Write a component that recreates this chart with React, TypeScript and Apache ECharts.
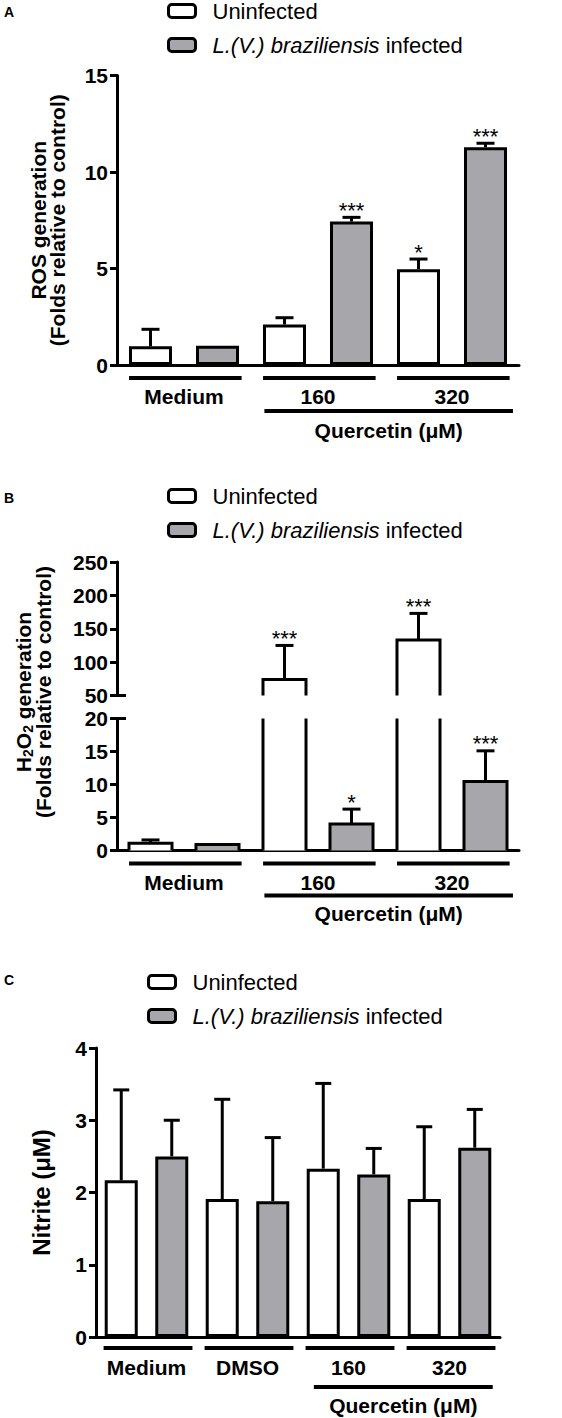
import React, { useEffect, useRef } from 'react';
import * as echarts from 'echarts';

const FONT = 'Liberation Sans, Arial, Helvetica, sans-serif';
const INK = '#000000';
const GRAY = '#a7a7ab';
const WHITE = '#ffffff';

const SPECIES = 'L.(V.) braziliensis';
const SERIES_NAMES = ['Uninfected', `${SPECIES} infected`];
const TREATMENT_LABEL = 'Quercetin (\u03bcM)';

// Panel A - ROS generation
const rosGroups = ['Medium', '160', '320'];
const rosUninfected = [0.97, 2.1, 4.96];
const rosUninfectedErr = [0.88, 0.35, 0.53];
const rosInfected = [1.0, 7.43, 11.28];
const rosInfectedErr = [0, 0.22, 0.21];
const rosUninfectedSig = ['', '', '*'];
const rosInfectedSig = ['', '***', '***'];
const rosAxis = { min: 0, max: 15, interval: 5 };

// Panel B - H2O2 generation (broken axis)
const h2o2Groups = ['Medium', '160', '320'];
const h2o2Uninfected = [1.1, 74, 133];
const h2o2UninfectedErr = [0.5, 51, 40];
const h2o2Infected = [0.9, 4.0, 10.45];
const h2o2InfectedErr = [0, 2.27, 4.65];
const h2o2UninfectedSig = ['', '***', '***'];
const h2o2InfectedSig = ['', '*', '***'];
const h2o2UpperAxis = { min: 50, max: 250, interval: 50 };
const h2o2LowerAxis = { min: 0, max: 20, interval: 5 };

// Panel C - Nitrite
const nitriteGroups = ['Medium', 'DMSO', '160', '320'];
const nitriteUninfected = [2.17, 1.91, 2.33, 1.91];
const nitriteUninfectedErr = [1.25, 1.38, 1.18, 1.0];
const nitriteInfected = [2.5, 1.88, 2.25, 2.62];
const nitriteInfectedErr = [0.5, 0.88, 0.36, 0.53];
const nitriteAxis = { min: 0, max: 4, interval: 1 };

const errRender = (sig: string[], side: number, cap: number) => (params: any, api: any) => {
  const cat = api.value(0);
  const mean = api.value(1);
  const err = api.value(2);
  const cs = params.coordSys;
  const band = api.size([1, 0])[0];
  const p0 = api.coord([cat, mean]);
  if (p0[1] < cs.y - 0.5 || p0[1] > cs.y + cs.height + 0.5) return null;
  const x = p0[0] + (side * band) / 4;
  const p1 = api.coord([cat, mean + err]);
  const children: any[] = [];
  if (err > 0) {
    children.push({ type: 'line', shape: { x1: x, y1: p0[1], x2: x, y2: p1[1] }, style: { stroke: INK, lineWidth: 3 } });
    children.push({ type: 'line', shape: { x1: x - cap, y1: p1[1], x2: x + cap, y2: p1[1] }, style: { stroke: INK, lineWidth: 3 } });
  }
  const s = sig[params.dataIndex];
  if (s) {
    children.push({
      type: 'text',
      x,
      y: p1[1] - 7,
      style: { text: s, fill: INK, fontFamily: FONT, fontSize: 22, align: 'center', verticalAlign: 'middle' },
    });
  }
  return { type: 'group', children };
};

const brokenBarRender = (side: number, fill: string) => (params: any, api: any) => {
  const cat = api.value(0);
  const v = api.value(1);
  const cs = params.coordSys;
  const band = api.size([1, 0])[0];
  const w = band * 0.321;
  const pTop = api.coord([cat, v]);
  const pBase = api.coord([cat, 0]);
  const gTop = cs.y;
  const gBot = cs.y + cs.height;
  if (pTop[1] > gBot) return null;
  const cx = pTop[0] + (side * band) / 4;
  const l = cx - w / 2;
  const r = cx + w / 2;
  const topClip = pTop[1] < gTop;
  const yT = Math.max(pTop[1], gTop);
  const yB = Math.min(pBase[1], gBot);
  const children: any[] = [{ type: 'rect', shape: { x: l, y: yT, width: w, height: yB - yT }, style: { fill } }];
  if (topClip) {
    children.push({ type: 'line', shape: { x1: l, y1: yB, x2: l, y2: yT }, style: { stroke: INK, lineWidth: 3 } });
    children.push({ type: 'line', shape: { x1: r, y1: yB, x2: r, y2: yT }, style: { stroke: INK, lineWidth: 3 } });
  } else {
    children.push({
      type: 'polyline',
      shape: { points: [[l, yB], [l, yT], [r, yT], [r, yB]] },
      style: { stroke: INK, lineWidth: 3, fill: 'none', lineJoin: 'miter' },
    });
  }
  return { type: 'group', children };
};

const breakRender = (params: any, api: any) => {
  const cs = params.coordSys;
  const y = api.coord([0, api.value(1)])[1];
  return { type: 'line', shape: { x1: cs.x, y1: y, x2: cs.x + 9, y2: y }, style: { stroke: INK, lineWidth: 3 } };
};

const underlineRender = (gap: number, fracL: number, fracR: number) => (params: any, api: any) => {
  const p = api.coord([api.value(0), 0]);
  const band = api.size([1, 0])[0];
  return {
    type: 'line',
    shape: { x1: p[0] - band * fracL, y1: p[1] + gap, x2: p[0] + band * fracR, y2: p[1] + gap },
    style: { stroke: INK, lineWidth: 4 },
  };
};

const treatmentRender = (lineGap: number, textGap: number, fracL: number, fracR: number) => (params: any, api: any) => {
  const a = api.coord([api.value(0), 0]);
  const b = api.coord([api.value(1), 0]);
  const band = api.size([1, 0])[0];
  const x1 = a[0] - band * fracL;
  const x2 = b[0] + band * fracR;
  const y = a[1] + lineGap;
  return {
    type: 'group',
    children: [
      { type: 'line', shape: { x1, y1: y, x2, y2: y }, style: { stroke: INK, lineWidth: 4 } },
      {
        type: 'text',
        x: (x1 + x2) / 2,
        y: a[1] + textGap,
        style: { text: TREATMENT_LABEL, fill: INK, fontFamily: FONT, fontWeight: 'bold', fontSize: 21, align: 'center', verticalAlign: 'middle' },
      },
    ],
  };
};

const legendFor = (left: number, top: number) => ({
  orient: 'vertical',
  left,
  top,
  padding: 0,
  itemWidth: 27,
  itemHeight: 13,
  itemGap: 12,
  selectedMode: false,
  data: [
    { name: SERIES_NAMES[0], icon: 'roundRect', itemStyle: { color: WHITE, borderColor: INK, borderWidth: 3 } },
    { name: SERIES_NAMES[1], icon: 'roundRect', itemStyle: { color: GRAY, borderColor: INK, borderWidth: 3 } },
  ],
  formatter: (name: string) =>
    name === SERIES_NAMES[1] ? `{gap|}{it|${SPECIES}}{n| infected}` : `{gap|}{n|${name}}`,
  textStyle: {
    fontFamily: FONT,
    fontSize: 22,
    color: INK,
    lineHeight: 22,
    rich: {
      gap: { width: 12, lineHeight: 22 },
      n: { fontFamily: FONT, fontSize: 22, color: INK, lineHeight: 22 },
      it: { fontFamily: FONT, fontSize: 22, fontStyle: 'italic', color: INK, lineHeight: 22 },
    },
  },
});

const yAxisBase = (gridIndex: number, range: any) => ({
  gridIndex,
  type: 'value',
  min: range.min,
  max: range.max,
  interval: range.interval,
  axisLine: { show: true, lineStyle: { color: INK, width: 3 } },
  axisTick: { show: true, length: 7, lineStyle: { color: INK, width: 3 } },
  axisLabel: { fontFamily: FONT, fontWeight: 'bold', fontSize: 21, color: INK, margin: 9 },
  splitLine: { show: false },
});

const xAxisBase = (gridIndex: number, data: string[], margin: number, show = true) => ({
  gridIndex,
  type: 'category',
  data,
  show,
  axisLine: { show: true, onZero: false, lineStyle: { color: INK, width: 3 } },
  axisTick: { show: false },
  axisLabel: { interval: 0, hideOverlap: false, fontFamily: FONT, fontWeight: 'bold', fontSize: 21, color: INK, margin },
});

const triples = (means: number[], errs: number[]) => means.map((m, i) => [i, m, errs[i]]);
const idx = (groups: string[]) => groups.map((_, i) => [i, 0]);

export default function App() {
  const ref = useRef<HTMLDivElement>(null);
  useEffect(() => {
    if (!ref.current) return;
    const chart = echarts.init(ref.current, null, { renderer: 'svg' });
    const option: any = {
      animation: false,
      backgroundColor: '#ffffff',
      textStyle: { fontFamily: FONT },
      grid: [
        { left: 117, top: 75.5, width: 402, height: 289.5 },
        { left: 117, top: 562, width: 402, height: 133.5 },
        { left: 117, top: 718.5, width: 402, height: 132 },
        { left: 96, top: 1048, width: 404, height: 289 },
      ],
      legend: [legendFor(167, 0), legendFor(167, 485), legendFor(147, 971)],
      xAxis: [
        xAxisBase(0, rosGroups, 21),
        xAxisBase(1, h2o2Groups, 21, false),
        xAxisBase(2, h2o2Groups, 21),
        xAxisBase(3, nitriteGroups, 20),
      ],
      yAxis: [
        {
          ...yAxisBase(0, rosAxis),
          name: 'ROS generation\n(Folds relative to control)',
          nameLocation: 'middle',
          nameRotate: 90,
          nameGap: 50,
          nameTextStyle: { fontFamily: FONT, fontSize: 21, fontWeight: 'bold', lineHeight: 19, color: INK },
        },
        yAxisBase(1, h2o2UpperAxis),
        yAxisBase(2, h2o2LowerAxis),
        {
          ...yAxisBase(3, nitriteAxis),
          name: 'Nitrite (\u03bcM)',
          nameLocation: 'middle',
          nameRotate: 90,
          nameGap: 43,
          nameTextStyle: { fontFamily: FONT, fontSize: 24, fontWeight: 'bold', color: INK },
        },
      ],
      graphic: [
        { type: 'text', left: 4, top: 5, style: { text: 'A', fontFamily: FONT, fontWeight: 'bold', fontSize: 14, fill: INK } },
        { type: 'text', left: 4, top: 491, style: { text: 'B', fontFamily: FONT, fontWeight: 'bold', fontSize: 14, fill: INK } },
        { type: 'text', left: 4, top: 973, style: { text: 'C', fontFamily: FONT, fontWeight: 'bold', fontSize: 14, fill: INK } },
        {
          type: 'text',
          x: 33,
          y: 692,
          rotation: Math.PI / 2,
          style: {
            text: '{n|H}{s|2}{n|O}{s|2}{n| generation}\n{n|(Folds relative to control)}',
            fill: INK,
            align: 'center',
            verticalAlign: 'middle',
            rich: {
              n: { fontFamily: FONT, fontSize: 21, fontWeight: 'bold', lineHeight: 20, fill: INK },
              s: { fontFamily: FONT, fontSize: 14, fontWeight: 'bold', lineHeight: 14, padding: [10, 0, 0, 0], fill: INK },
            },
          },
        },
      ],
      series: [
        // Panel A
        { type: 'bar', name: SERIES_NAMES[0], xAxisIndex: 0, yAxisIndex: 0, data: rosUninfected, barWidth: '32.1%', barGap: '55.8%', itemStyle: { color: WHITE, borderColor: INK, borderWidth: 3 } },
        { type: 'bar', name: SERIES_NAMES[1], xAxisIndex: 0, yAxisIndex: 0, data: rosInfected, barWidth: '32.1%', barGap: '55.8%', itemStyle: { color: GRAY, borderColor: INK, borderWidth: 3 } },
        { type: 'custom', xAxisIndex: 0, yAxisIndex: 0, z: 5, data: triples(rosUninfected, rosUninfectedErr), renderItem: errRender(rosUninfectedSig, -1, 9) },
        { type: 'custom', xAxisIndex: 0, yAxisIndex: 0, z: 5, data: triples(rosInfected, rosInfectedErr), renderItem: errRender(rosInfectedSig, 1, 9) },
        { type: 'custom', xAxisIndex: 0, yAxisIndex: 0, data: idx(rosGroups), renderItem: underlineRender(13, 0.41, 0.43) },
        { type: 'custom', xAxisIndex: 0, yAxisIndex: 0, data: [[1, 2]], renderItem: treatmentRender(46, 65, 0.4, 0.455) },
        // Panel B (upper and lower segments)
        ...[1, 2].flatMap((g) => [
          { type: 'custom', name: SERIES_NAMES[0], xAxisIndex: g, yAxisIndex: g, data: triples(h2o2Uninfected, h2o2UninfectedErr), renderItem: brokenBarRender(-1, WHITE), itemStyle: { color: WHITE, borderColor: INK } },
          { type: 'custom', name: SERIES_NAMES[1], xAxisIndex: g, yAxisIndex: g, data: triples(h2o2Infected, h2o2InfectedErr), renderItem: brokenBarRender(1, GRAY), itemStyle: { color: GRAY, borderColor: INK } },
          { type: 'custom', xAxisIndex: g, yAxisIndex: g, z: 5, data: triples(h2o2Uninfected, h2o2UninfectedErr), renderItem: errRender(h2o2UninfectedSig, -1, 9) },
          { type: 'custom', xAxisIndex: g, yAxisIndex: g, z: 5, data: triples(h2o2Infected, h2o2InfectedErr), renderItem: errRender(h2o2InfectedSig, 1, 9) },
        ]),
        { type: 'custom', xAxisIndex: 1, yAxisIndex: 1, data: [[0, h2o2UpperAxis.min]], renderItem: breakRender },
        { type: 'custom', xAxisIndex: 2, yAxisIndex: 2, data: [[0, h2o2LowerAxis.max]], renderItem: breakRender },
        { type: 'custom', xAxisIndex: 2, yAxisIndex: 2, data: idx(h2o2Groups), renderItem: underlineRender(13, 0.41, 0.43) },
        { type: 'custom', xAxisIndex: 2, yAxisIndex: 2, data: [[1, 2]], renderItem: treatmentRender(45, 63, 0.4, 0.455) },
        // Panel C
        { type: 'bar', name: SERIES_NAMES[0], xAxisIndex: 3, yAxisIndex: 3, data: nitriteUninfected, barWidth: '32.7%', barGap: '53%', itemStyle: { color: WHITE, borderColor: INK, borderWidth: 3 } },
        { type: 'bar', name: SERIES_NAMES[1], xAxisIndex: 3, yAxisIndex: 3, data: nitriteInfected, barWidth: '32.7%', barGap: '53%', itemStyle: { color: GRAY, borderColor: INK, borderWidth: 3 } },
        { type: 'custom', xAxisIndex: 3, yAxisIndex: 3, z: 5, data: triples(nitriteUninfected, nitriteUninfectedErr), renderItem: errRender([], -1, 8) },
        { type: 'custom', xAxisIndex: 3, yAxisIndex: 3, z: 5, data: triples(nitriteInfected, nitriteInfectedErr), renderItem: errRender([], 1, 8) },
        { type: 'custom', xAxisIndex: 3, yAxisIndex: 3, data: idx(nitriteGroups), renderItem: underlineRender(11, 0.425, 0.455) },
        { type: 'custom', xAxisIndex: 3, yAxisIndex: 3, data: [[2, 3]], renderItem: treatmentRender(50, 68, 0.343, 0.428) },
      ],
    };
    chart.setOption(option);
    return () => chart.dispose();
  }, []);
  return <div ref={ref} style={{ position: 'absolute', left: 0, top: 0, width: 562, height: 1418 }} />;
}
